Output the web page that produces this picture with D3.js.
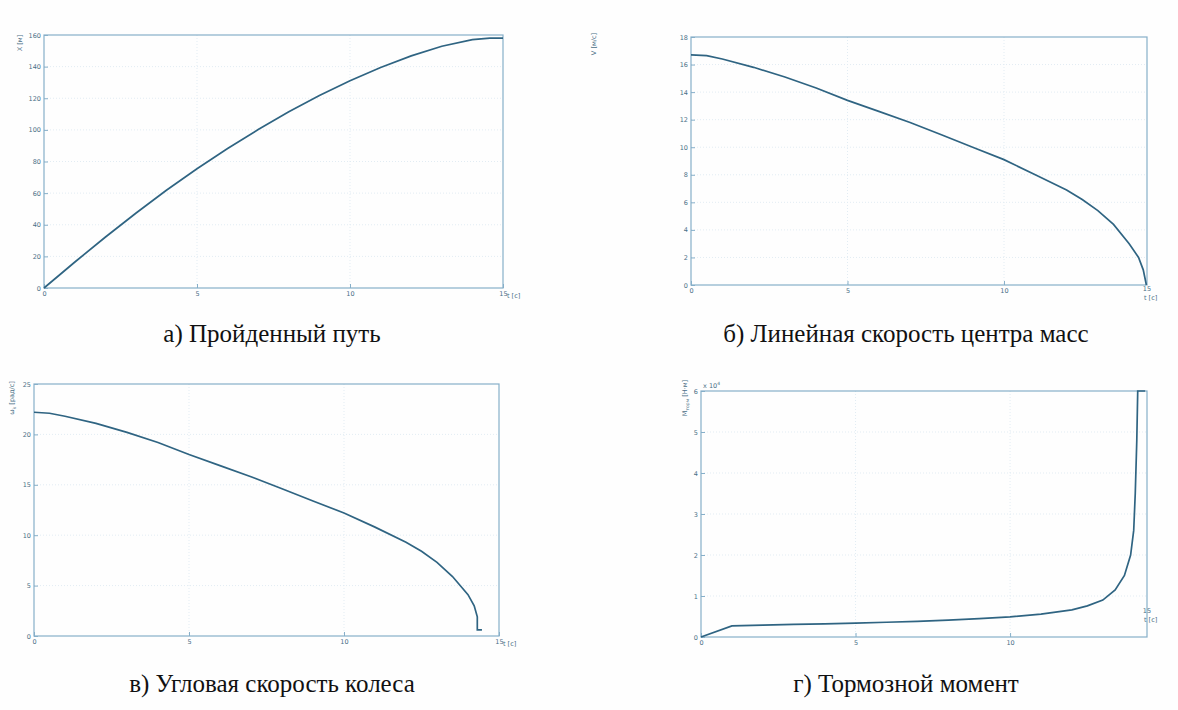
<!DOCTYPE html>
<html><head><meta charset="utf-8">
<script src="https://cdn.jsdelivr.net/npm/d3@7"></script>
<style>body{margin:0;background:#fff}svg{display:block}</style>
</head><body>
<svg id="c" width="1178" height="710"></svg>
<script>
// ---- data ----
const xTicksFull = [0, 5, 10, 15];
const xTicksCut = [0, 5, 10];
// a) distance travelled
const pathT = [0,1,2,3,4,5,6,7,8,9,10,11,12,13,14,14.57,15];
const pathX = [0,16.3,32.1,47.3,61.8,75.4,88.2,100.2,111.4,121.7,131.1,139.5,146.8,152.9,157.1,158,158];
const pathTicks = [0,20,40,60,80,100,120,140,160];
// b) linear speed of centre of mass
const speedT = [0,0.5,1,2,3,4,5,6,7,8,9,10,11,12,12.5,13,13.5,14,14.3,14.45,14.55];
const speedV = [16.7,16.65,16.4,15.8,15.1,14.3,13.4,12.6,11.8,10.9,10.0,9.1,8.0,6.9,6.2,5.4,4.4,3.0,2.0,1.1,0];
const speedTicks = [0,2,4,6,8,10,12,14,16,18];
// c) wheel angular speed
const omegaT = [0,0.5,1,2,3,4,5,6,7,8,9,10,11,12,12.5,13,13.5,14,14.2,14.3,14.3,14.45];
const omegaW = [22.2,22.1,21.8,21.1,20.2,19.2,18.0,16.9,15.8,14.6,13.4,12.2,10.8,9.3,8.4,7.3,5.9,4.1,3.0,1.9,0.6,0.6];
const omegaTicks = [0,5,10,15,20,25];
// d) braking torque (x 10^4)
const torqueT = [0,1.0,2,3,4,5,6,7,8,9,10,11,12,12.5,13,13.4,13.7,13.9,14.0,14.05,14.1,14.13,14.37];
const torqueM = [0,0.27,0.29,0.31,0.32,0.34,0.36,0.38,0.41,0.45,0.49,0.56,0.66,0.76,0.9,1.15,1.5,2.0,2.6,3.5,4.8,6.0,6.0];
const torqueTicks = [0,1,2,3,4,5,6];

const captions = ["а) Пройденный путь","б) Линейная скорость центра масс","в) Угловая скорость колеса","г) Тормозной момент"];

const svg = d3.select("#c");
svg.append("rect").attr("width",1178).attr("height",710).attr("fill","#fefefe");

const AXC = "#86afc9", LINEC = "#2f6482", TXT = "#4a6f86", GRID = "#e2ecf3";

function panel(o){
  const x = d3.scaleLinear().domain([0,o.xmax]).range([o.l, o.r]);
  const y = d3.scaleLinear().domain([0, o.ymax]).range([o.b, o.t]);
  const g = svg.append("g");
  const gxT = o.xTicks.filter(d=>d>0 && d<o.xmax);
  g.selectAll(".gx").data(gxT).join("line")
    .attr("x1",d=>x(d)).attr("x2",d=>x(d)).attr("y1",o.t).attr("y2",o.b)
    .attr("stroke",GRID).attr("stroke-dasharray","1,2");
  g.selectAll(".gy").data(o.yTicks.slice(1,-1)).join("line")
    .attr("y1",d=>y(d)).attr("y2",d=>y(d)).attr("x1",o.l).attr("x2",o.r)
    .attr("stroke",GRID).attr("stroke-dasharray","1,2");
  g.append("rect").attr("x",o.l).attr("y",o.t).attr("width",o.r-o.l).attr("height",o.b-o.t)
    .attr("fill","none").attr("stroke",AXC).attr("stroke-width",1.2);
  const ax = d3.axisBottom(x).tickValues(o.xTicks).tickSize(-4).tickPadding(3).tickFormat(d3.format("d"));
  const ay = d3.axisLeft(y).tickValues(o.yTicks).tickSize(-4).tickPadding(3).tickFormat(d3.format("d"));
  const gx = g.append("g").attr("transform",`translate(0,${o.b})`).call(ax);
  const gy = g.append("g").attr("transform",`translate(${o.l},0)`).call(ay);
  [gx,gy].forEach(a=>{
    a.select(".domain").remove();
    a.selectAll("line").attr("stroke",AXC);
    a.selectAll("text").attr("fill",TXT).style("font-family","DejaVu Sans").style("font-size","6.5px");
  });
  g.append("path").datum(o.ts.map((t,i)=>[t,o.vs[i]]))
    .attr("d", d3.line().x(d=>x(d[0])).y(d=>y(d[1])))
    .attr("fill","none").attr("stroke",LINEC).attr("stroke-width",1.7);
  const tl = g.append("text").attr("fill",TXT).style("font-family","DejaVu Sans").style("font-size","6.5px");
  if(o.stack!==undefined){
    g.append("text").attr("x",o.r).attr("y",o.b+o.stack).attr("text-anchor","middle").text("15")
      .attr("fill",TXT).style("font-family","DejaVu Sans").style("font-size","6.5px");
    tl.attr("x",o.r-3).attr("y",o.b+o.stack+9).text("t [с]");
  } else {
    tl.attr("x",o.r+4).attr("y",o.b+10).text("t [с]");
  }
  const yl = g.append("text").attr("transform",`translate(${o.ylx},${o.yly}) rotate(-90)`)
    .attr("text-anchor","middle").attr("fill",TXT).style("font-family","DejaVu Sans").style("font-size","6.5px");
  o.ylab(yl);
  if(o.extra) o.extra(g);
  svg.append("text").attr("x",o.cx).attr("y",o.cy).attr("text-anchor","middle")
    .style("font-family","Liberation Serif").style("font-size","25px").attr("fill","#111")
    .text(o.caption);
}

panel({l:44,r:503,t:35,b:288,xmax:15,xTicks:xTicksFull,ymax:160,yTicks:pathTicks,ts:pathT,vs:pathX,
  ylx:22,yly:43,ylab:t=>t.text("X [м]"),cx:272,cy:342,caption:captions[0]});
panel({l:691,r:1147,t:37,b:285,xmax:14.57,xTicks:xTicksCut,stack:6,ymax:18,yTicks:speedTicks,ts:speedT,vs:speedV,
  ylx:596,yly:44,ylab:t=>t.text("V [м/с]"),cx:906,cy:342,caption:captions[1]});
panel({l:34,r:499,t:384,b:636,xmax:15,xTicks:xTicksFull,ymax:25,yTicks:omegaTicks,ts:omegaT,vs:omegaW,
  ylx:14,yly:398,ylab:t=>{t.append("tspan").text("ω");t.append("tspan").attr("font-size","4.5px").attr("dy",2).text("k");t.append("tspan").attr("dy",-2).text(" [рад/с]");},
  cx:272,cy:692,caption:captions[2]});
panel({l:701,r:1147,t:391,b:637,xmax:14.43,xTicks:xTicksCut,stack:-24,ymax:6,yTicks:torqueTicks,ts:torqueT,vs:torqueM,
  ylx:687,yly:398,ylab:t=>{t.append("tspan").text("M");t.append("tspan").attr("font-size","4.5px").attr("dy",2).text("торм");t.append("tspan").attr("dy",-2).text(" [Н·м]");},
  extra:g=>{const e=g.append("text").attr("x",703).attr("y",388).attr("fill",TXT).style("font-family","DejaVu Sans").style("font-size","6.5px");
    e.append("tspan").text("x 10");e.append("tspan").attr("dy",-3).attr("font-size","4.5px").text("4");},
  cx:906,cy:692,caption:captions[3]});
</script>
</body></html>
